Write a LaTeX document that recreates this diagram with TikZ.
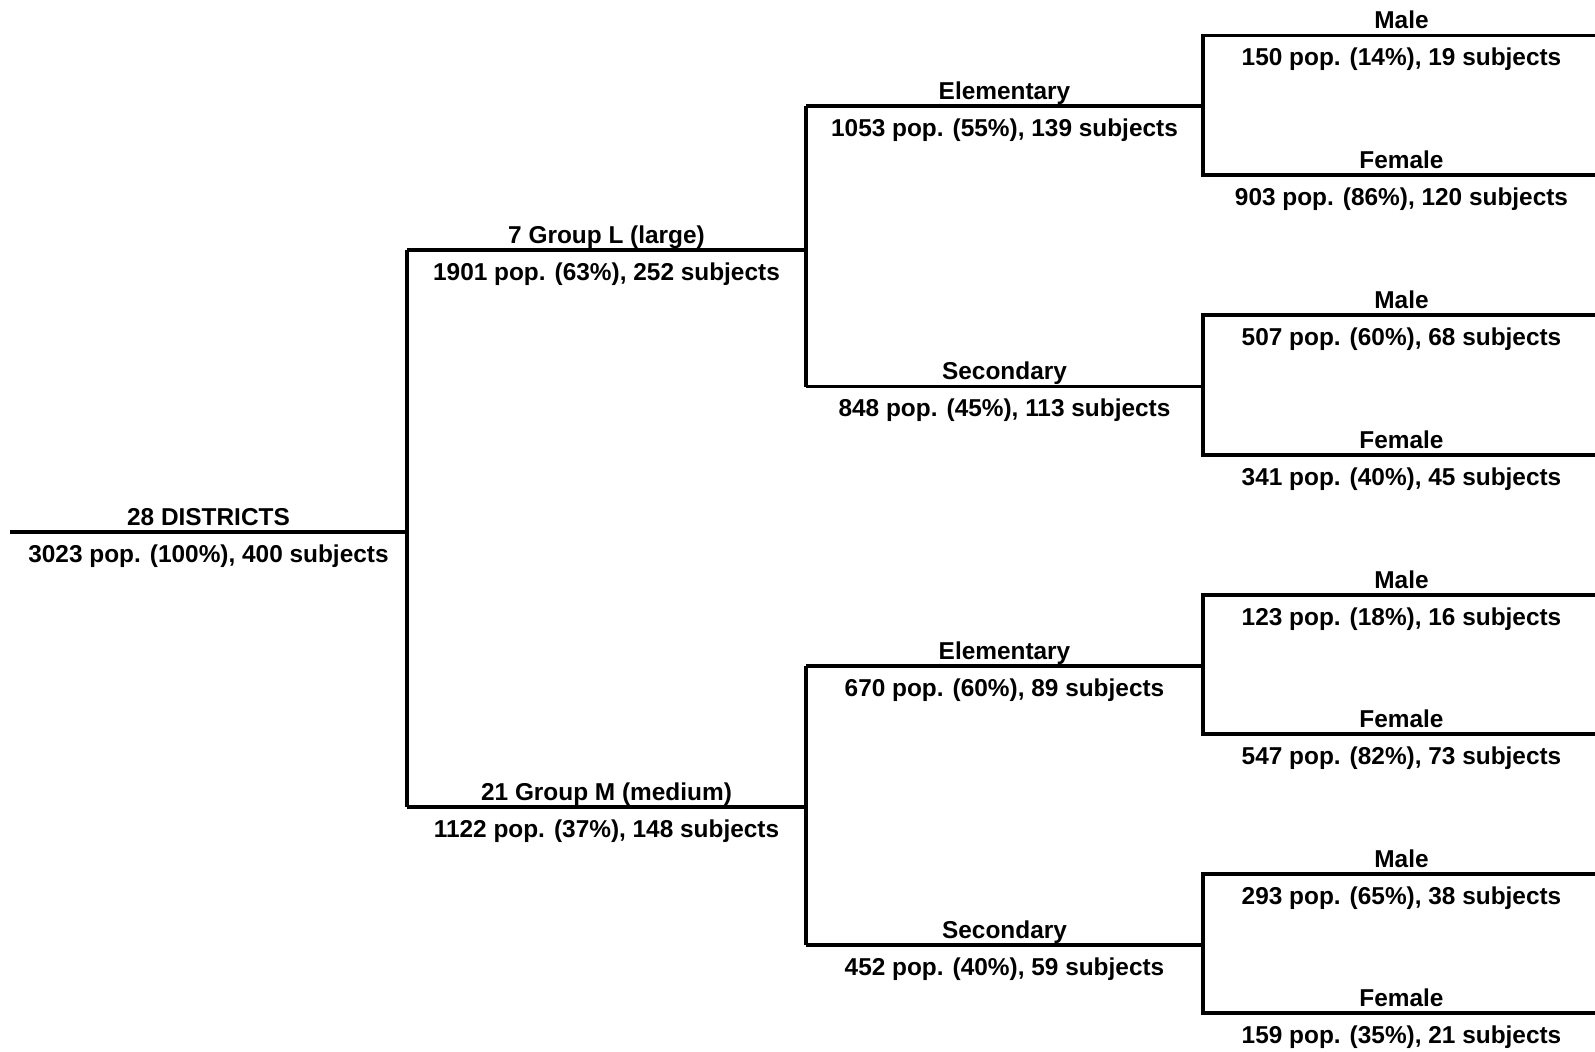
\documentclass[tikz,border=0pt]{standalone}
\usepackage{fontspec}
\setmainfont{Liberation Sans}

\begin{document}
\begin{tikzpicture}[x=0.5pt, y=-0.5pt, line width=1.6pt,
	lbl/.style = {anchor=base, inner sep=0pt, yshift=3.5pt, font=\bfseries\fontsize{12.2}{15}\selectfont},
	cnt/.style = {anchor=base, inner sep=0pt, yshift=-15pt, font=\bfseries\fontsize{12.2}{15}\selectfont}]
	\useasboundingbox (0,0) rectangle (1595,1051);

	% district level
	\coordinate (start) at (10,532);
	\coordinate (split) at (407,532);
	\coordinate (large) at (407,250);
	\coordinate (medium) at (407,807);
	\draw (start) -- (split) node [midway, lbl] (tDist) {28 DISTRICTS}
		node [midway, cnt] (nDist) {3023 pop. (100\%), 400 subjects};
	\draw (large) -- (medium);

	% group level
	\coordinate (largeEnd) at (806,250);
	\coordinate (mediumEnd) at (806,807);
	\draw (large) -- (largeEnd) node [midway, lbl] (tLarge) {7 Group L (large)}
		node [midway, cnt] (nLarge) {1901 pop. (63\%), 252 subjects};
	\draw (medium) -- (mediumEnd) node [midway, lbl] (tMedium) {21 Group M (medium)}
		node [midway, cnt] (nMedium) {1122 pop. (37\%), 148 subjects};

	% school level
	\coordinate (elemL) at (806,106);
	\coordinate (secL) at (806,386.5);
	\coordinate (elemM) at (806,666);
	\coordinate (secM) at (806,945);
	\draw (elemL) -- (secL);
	\draw (elemM) -- (secM);
	\coordinate (elemLEnd) at (1203,106);
	\coordinate (secLEnd) at (1203,386.5);
	\coordinate (elemMEnd) at (1203,666);
	\coordinate (secMEnd) at (1203,945);
	\draw (elemL) -- (elemLEnd) node [midway, lbl] (tElemL) {Elementary}
		node [midway, cnt] (nElemL) {1053 pop. (55\%), 139 subjects};
	\draw (secL) -- (secLEnd) node [midway, lbl] (tSecL) {Secondary}
		node [midway, cnt] (nSecL) {848 pop. (45\%), 113 subjects};
	\draw (elemM) -- (elemMEnd) node [midway, lbl] (tElemM) {Elementary}
		node [midway, cnt] (nElemM) {670 pop. (60\%), 89 subjects};
	\draw (secM) -- (secMEnd) node [midway, lbl] (tSecM) {Secondary}
		node [midway, cnt] (nSecM) {452 pop. (40\%), 59 subjects};

	% sex level
	\foreach \n/\ym/\yf in {a/35.6/175, b/315/455, c/595/734, d/874/1013} {
		\coordinate (male\n) at (1203,\ym);
		\coordinate (female\n) at (1203,\yf);
		\coordinate (maleEnd\n) at (1600,\ym);
		\coordinate (femaleEnd\n) at (1600,\yf);
		\draw (maleEnd\n) -- (male\n) -- (female\n) -- (femaleEnd\n);
		\path (male\n) -- (maleEnd\n) node [midway, lbl] (tMale\n) {Male};
		\path (female\n) -- (femaleEnd\n) node [midway, lbl] (tFemale\n) {Female};
	}
	\path (malea) -- (maleEnda) node [midway, cnt] (nMalea) {150 pop. (14\%), 19 subjects};
	\path (femalea) -- (femaleEnda) node [midway, cnt] (nFemalea) {903 pop. (86\%), 120 subjects};
	\path (maleb) -- (maleEndb) node [midway, cnt] (nMaleb) {507 pop. (60\%), 68 subjects};
	\path (femaleb) -- (femaleEndb) node [midway, cnt] (nFemaleb) {341 pop. (40\%), 45 subjects};
	\path (malec) -- (maleEndc) node [midway, cnt] (nMalec) {123 pop. (18\%), 16 subjects};
	\path (femalec) -- (femaleEndc) node [midway, cnt] (nFemalec) {547 pop. (82\%), 73 subjects};
	\path (maled) -- (maleEndd) node [midway, cnt] (nMaled) {293 pop. (65\%), 38 subjects};
	\path (femaled) -- (femaleEndd) node [midway, cnt] (nFemaled) {159 pop. (35\%), 21 subjects};
\end{tikzpicture}
\end{document}
